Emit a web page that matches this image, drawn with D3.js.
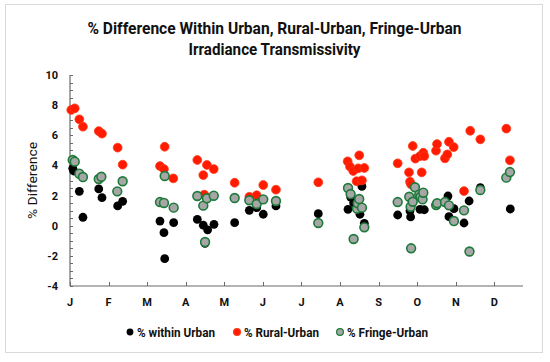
<!DOCTYPE html>
<html>
<head>
<meta charset="utf-8">
<script src="https://cdn.jsdelivr.net/npm/d3@7"></script>
<style>
  html, body { margin: 0; padding: 0; background: #fff; }
  svg text { font-family: "Liberation Sans Narrow", "Roboto", "Liberation Sans", sans-serif; fill: #111; }
  .axis-line { stroke: #6b6b6b; stroke-width: 1.2; }
  .tick-mark { stroke: #6b6b6b; stroke-width: 1; }
</style>
</head>
<body>
<div id="chart"></div>
<script>
// Month tick labels (x axis is day of year, ticks every 31 days)
const MONTHS = ["J", "F", "M", "A", "M", "J", "J", "A", "S", "O", "N", "D"];
const Y_TICKS = [-4, -2, 0, 2, 4, 6, 8, 10];

// [day of year, % difference]
const urban = [
  [2.2, 3.81], [3.0, 3.63], [7.5, 2.28], [10.4, 0.56], [23.1, 2.44], [25.7, 1.86],
  [38.3, 1.31], [42.3, 1.62], [72.3, 0.31], [75.5, -0.46], [76.1, -2.19], [83.3, 0.20],
  [102.3, 0.42], [107.1, 0.03], [108.5, -1.17], [110.6, -0.27], [115.7, 0.09], [132.3, 0.20],
  [144.1, 1.02], [150.0, 1.20], [155.3, 0.76], [165.5, 1.31], [199.5, 0.80], [223.4, 1.09],
  [225.5, 1.90], [227.9, 1.51], [230.6, 1.13], [234.6, 2.61], [233.0, 0.76], [236.5, 0.16],
  [263.3, 0.71], [273.2, 0.98], [273.7, 0.58], [281.2, 1.09], [284.7, 1.06], [303.7, 1.97],
  [304.5, 0.60], [308.5, 1.13], [316.6, 0.18], [320.7, 1.64], [329.7, 2.52], [353.8, 1.11]
];

const ruralUrban = [
  [1.0, 7.68], [3.8, 7.79], [7.5, 7.06], [10.4, 6.57], [23.1, 6.28], [25.7, 6.11],
  [38.3, 5.18], [42.3, 4.05], [72.3, 3.96], [75.5, 3.76], [76.1, 5.24], [83.0, 3.14],
  [102.3, 4.36], [107.1, 3.36], [107.9, 2.06], [110.0, 4.03], [115.5, 3.76], [132.3, 2.85],
  [144.1, 1.92], [150.0, 2.02], [155.3, 2.70], [165.5, 2.39], [199.5, 2.88], [223.1, 4.27],
  [225.0, 3.92], [227.6, 3.63], [230.3, 2.95], [231.6, 3.81], [232.4, 4.67], [234.6, 3.01],
  [236.5, 3.83], [263.3, 4.14], [272.4, 3.54], [273.2, 2.92], [274.0, 2.75], [275.4, 5.29],
  [277.5, 4.45], [281.2, 4.62], [282.6, 3.54], [283.9, 4.84], [284.7, 4.62], [294.1, 4.98],
  [294.9, 5.42], [301.3, 4.47], [303.2, 4.73], [304.5, 5.57], [308.3, 5.22], [316.6, 2.30],
  [321.6, 6.30], [329.7, 5.73], [350.6, 6.44], [353.5, 4.34]
];

const fringeUrban = [
  [2.2, 4.36], [3.8, 4.25], [7.5, 3.45], [10.4, 3.23], [23.1, 3.10], [25.2, 3.25],
  [38.0, 2.28], [42.3, 2.95], [72.3, 1.57], [75.5, 1.51], [76.1, 3.30], [83.3, 1.20],
  [102.3, 1.97], [107.1, 1.33], [108.5, -1.08], [110.0, 1.82], [115.5, 1.99], [132.3, 1.84],
  [144.1, 1.69], [150.0, 1.44], [155.3, 1.75], [165.5, 1.64], [199.5, 0.18], [223.4, 2.50],
  [225.5, 2.10], [227.9, -0.88], [230.6, 1.13], [231.2, 1.49], [232.4, 1.77], [234.6, 1.20],
  [236.5, -0.11], [263.3, 1.57], [272.6, 1.92], [273.7, 1.26], [274.1, -1.50], [275.4, 1.59],
  [277.2, 2.55], [280.6, 2.06], [281.7, 1.92], [283.3, 1.75], [283.9, 2.19], [294.2, 1.37],
  [295.0, 1.49], [301.3, 1.57], [304.5, 1.35], [308.5, 0.31], [316.6, 1.02], [321.0, -1.71],
  [329.7, 2.37], [350.6, 3.19], [353.5, 3.56]
];

// Drawing order matters: black first, green on top
const SERIES = [
  { name: "% within Urban", data: urban, fill: "#000000", stroke: "#000000", sw: 0 },
  { name: "% Rural-Urban", data: ruralUrban, fill: "#ff1a00", stroke: "#ff3a1a", sw: 0.8 },
  { name: "% Fringe-Urban", data: fringeUrban, fill: "#a6a6a6", stroke: "#1d7a3a", sw: 1.6 }
];

const width = 550, height = 362;
const svg = d3.select("#chart").append("svg")
  .attr("width", width).attr("height", height);

// Outer chart border
svg.append("rect")
  .attr("x", 5.5).attr("y", 4.5).attr("width", 537).attr("height", 348)
  .attr("fill", "#fff").attr("stroke", "#d9d9d9").attr("stroke-width", 1);

const x = d3.scaleLinear().domain([0, 364]).range([70, 523]);
const y = d3.scaleLinear().domain([-4, 10]).range([286, 75]);

// Title, two lines
svg.append("text")
  .attr("x", 274.5).attr("y", 34).attr("text-anchor", "middle")
  .attr("font-size", 16).attr("font-weight", "bold")
  .attr("textLength", 374).attr("lengthAdjust", "spacingAndGlyphs")
  .text("% Difference Within Urban, Rural-Urban, Fringe-Urban");
svg.append("text")
  .attr("x", 274.5).attr("y", 55).attr("text-anchor", "middle")
  .attr("font-size", 16).attr("font-weight", "bold")
  .attr("textLength", 172).attr("lengthAdjust", "spacingAndGlyphs")
  .text("Irradiance Transmissivity");

// Y axis: line, minor ticks, major labels
svg.append("line").attr("class", "axis-line")
  .attr("x1", x(0)).attr("x2", x(0)).attr("y1", y(10)).attr("y2", y(-4));

const minor = d3.range(-4, 10.01, 0.5);
svg.append("g").selectAll("line").data(minor).join("line")
  .attr("class", "tick-mark")
  .attr("x1", x(0)).attr("x2", x(0) + 3)
  .attr("y1", (d) => Math.round(y(d)) + 0.5).attr("y2", (d) => Math.round(y(d)) + 0.5);

svg.append("g").selectAll("text").data(Y_TICKS).join("text")
  .attr("x", 58).attr("y", (d) => y(d) + 4)
  .attr("text-anchor", "end").attr("font-size", 11).attr("font-weight", "bold")
  .text((d) => d);

svg.append("text")
  .attr("transform", `translate(37, ${(y(10) + y(-4)) / 2}) rotate(-90)`)
  .attr("text-anchor", "middle").attr("font-size", 13)
  .attr("textLength", 77).attr("lengthAdjust", "spacingAndGlyphs")
  .text("% Difference");

// X axis: line, month ticks pointing up, labels
svg.append("line").attr("class", "axis-line")
  .attr("x1", x(0)).attr("x2", x(364)).attr("y1", y(-4)).attr("y2", y(-4));

const monthDays = MONTHS.map((_, i) => i * 31);
svg.append("g").selectAll("line").data(monthDays).join("line")
  .attr("class", "tick-mark")
  .attr("x1", (d) => Math.round(x(d)) + 0.5).attr("x2", (d) => Math.round(x(d)) + 0.5)
  .attr("y1", y(-4)).attr("y2", y(-4) - 4);

svg.append("g").selectAll("text").data(MONTHS).join("text")
  .attr("x", (_, i) => x(monthDays[i])).attr("y", 306)
  .attr("text-anchor", "middle").attr("font-size", 11).attr("font-weight", "bold")
  .text((d) => d);

// Markers
SERIES.forEach((s) => {
  svg.append("g").selectAll("circle").data(s.data).join("circle")
    .attr("cx", (d) => x(d[0])).attr("cy", (d) => y(d[1]))
    .attr("r", 4.4)
    .attr("fill", s.fill)
    .attr("stroke", s.stroke).attr("stroke-width", s.sw);
});

// Legend along the bottom
const legendPos = [
  { cx: 130, tx: 137, len: 78 },
  { cx: 237, tx: 244, len: 75 },
  { cx: 340, tx: 347, len: 81 }
];
const legend = svg.append("g").selectAll("g").data(SERIES).join("g");
legend.append("circle")
  .attr("cx", (_, i) => legendPos[i].cx).attr("cy", 332).attr("r", 3.4)
  .attr("fill", (d) => d.fill).attr("stroke", (d) => d.stroke)
  .attr("stroke-width", (d) => d.sw ? 1.2 : 0);
legend.append("text")
  .attr("x", (_, i) => legendPos[i].tx).attr("y", 336.5)
  .attr("font-size", 12).attr("font-weight", "bold")
  .attr("textLength", (_, i) => legendPos[i].len).attr("lengthAdjust", "spacingAndGlyphs")
  .text((d) => d.name);
</script>
</body>
</html>
